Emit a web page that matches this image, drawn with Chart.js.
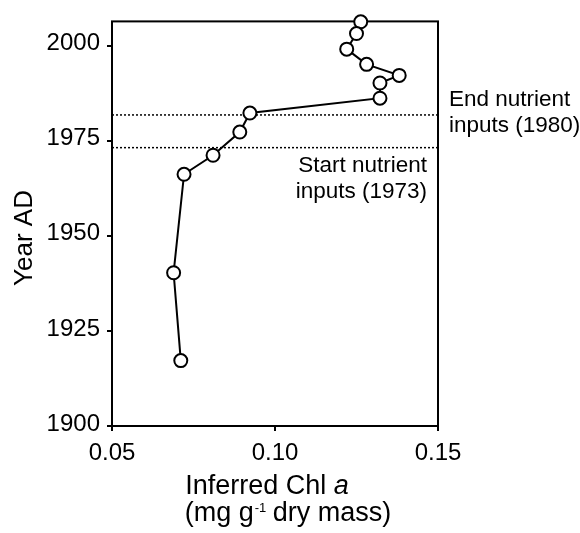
<!DOCTYPE html>
<html>
<head>
<meta charset="utf-8">
<script src="https://cdn.jsdelivr.net/npm/chart.js@4"></script>
<style>
  html, body { margin: 0; padding: 0; background: #fff; }
  #wrap { width: 580px; height: 533px; }
</style>
</head>
<body>
<div id="wrap"><canvas id="grafico"></canvas></div>
<script>
// valores
const chlA = [0.1263, 0.1250, 0.1220, 0.1281, 0.1381, 0.1322, 0.1322, 0.0923, 0.0892, 0.0810, 0.0721, 0.0689, 0.0711]
const anos = [2006.3, 2003.2, 1999.1, 1995.1, 1992.2, 1990.2, 1986.2, 1982.3, 1977.3, 1971.2, 1966.2, 1940.3, 1917.2]
const ticksX = [0.05, 0.10, 0.15]
const ticksY = [1900, 1925, 1950, 1975, 2000]
const anoFim = 1981.8   // linha "End nutrient inputs"
const anoInicio = 1973.2 // linha "Start nutrient inputs"

const fonte = "'Liberation Sans', Arial, sans-serif"

const pontos = chlA.map((x, i) => ({ x: x, y: anos[i] }))

function linhaHorizontal(ano) {
  return [{ x: ticksX[0], y: ano }, { x: ticksX[ticksX.length - 1], y: ano }]
}

// moldura e textos
const textos = {
  id: 'textos',
  beforeDatasetsDraw(chart) {
    const { ctx, chartArea } = chart
    ctx.save()
    ctx.strokeStyle = '#000'
    ctx.lineWidth = 2
    ctx.strokeRect(chartArea.left, chartArea.top, chartArea.right - chartArea.left, chartArea.bottom - chartArea.top)
    ctx.restore()
  },
  afterDraw(chart) {
    const { ctx, chartArea, scales } = chart
    ctx.save()
    ctx.fillStyle = '#000'
    ctx.textBaseline = 'alphabetic'

    // anotacoes
    ctx.font = '22.5px ' + fonte
    ctx.textAlign = 'left'
    const yFim = scales.y.getPixelForValue(anoFim)
    ctx.fillText('End nutrient', chartArea.right + 11, yFim - 9)
    ctx.fillText('inputs (1980)', chartArea.right + 11, yFim + 17)
    ctx.textAlign = 'right'
    const yIni = scales.y.getPixelForValue(anoInicio)
    ctx.fillText('Start nutrient', chartArea.right - 11, yIni + 24)
    ctx.fillText('inputs (1973)', chartArea.right - 11, yIni + 50)

    // titulo eixo y
    ctx.font = '26px ' + fonte
    ctx.textAlign = 'center'
    ctx.save()
    ctx.translate(32, 238)
    ctx.rotate(-Math.PI / 2)
    ctx.fillText('Year AD', 0, 0)
    ctx.restore()

    // titulo eixo x, linha 1 com "a" em italico
    const p1 = 'Inferred Chl '
    ctx.font = '27px ' + fonte
    const w1 = ctx.measureText(p1).width
    ctx.font = 'italic 27px ' + fonte
    const w2 = ctx.measureText('a').width
    let x0 = 267 - (w1 + w2) / 2
    ctx.textAlign = 'left'
    ctx.font = '27px ' + fonte
    ctx.fillText(p1, x0, 494)
    ctx.font = 'italic 27px ' + fonte
    ctx.fillText('a', x0 + w1, 494)

    // linha 2 com expoente
    const a = '(mg g'
    const sup = '-1'
    const b = ' dry mass)'
    ctx.font = '27px ' + fonte
    const wa = ctx.measureText(a).width
    const wb = ctx.measureText(b).width
    ctx.font = '13px ' + fonte
    const ws = ctx.measureText(sup).width
    x0 = 288 - (wa + ws + wb) / 2
    ctx.font = '27px ' + fonte
    ctx.fillText(a, x0, 521)
    ctx.font = '13px ' + fonte
    ctx.fillText(sup, x0 + wa + 1, 512)
    ctx.font = '27px ' + fonte
    ctx.fillText(b, x0 + wa + ws, 521)
    ctx.restore()
  }
}

const grafico = new Chart(document.getElementById('grafico'), {
  type: 'scatter',
  data: {
    datasets: [
      {
        label: 'Chl a',
        data: pontos,
        showLine: true,
        borderColor: '#000',
        borderWidth: 2,
        pointRadius: 6.5,
        pointBackgroundColor: '#fff',
        pointBorderColor: '#000',
        pointBorderWidth: 2,
        clip: false,
        order: 0
      },
      {
        label: 'fim',
        data: linhaHorizontal(anoFim),
        showLine: true,
        borderColor: '#000',
        borderWidth: 1.5,
        borderDash: [2, 2],
        pointRadius: 0,
        order: 1
      },
      {
        label: 'inicio',
        data: linhaHorizontal(anoInicio),
        showLine: true,
        borderColor: '#000',
        borderWidth: 1.5,
        borderDash: [2, 2],
        pointRadius: 0,
        order: 1
      }
    ]
  },
  options: {
    responsive: true,
    maintainAspectRatio: false,
    animation: false,
    layout: { padding: { top: 17, right: 142, left: 0, bottom: 0 } },
    plugins: {
      legend: { display: false },
      tooltip: { enabled: false }
    },
    scales: {
      x: {
        type: 'linear',
        min: 0.05,
        max: 0.15,
        afterFit: (scale) => { scale.height = 107 },
        afterBuildTicks: (scale) => { scale.ticks = ticksX.map(v => ({ value: v })) },
        border: { display: false },
        grid: { drawOnChartArea: false, drawTicks: true, tickLength: 5, color: '#000', lineWidth: 2 },
        ticks: {
          color: '#000',
          font: { family: fonte, size: 24 },
          padding: 8,
          maxRotation: 0,
          callback: (v) => Number(v).toFixed(2)
        }
      },
      y: {
        type: 'linear',
        min: 1900,
        max: 2006.4,
        afterFit: (scale) => { scale.width = 112 },
        afterBuildTicks: (scale) => { scale.ticks = ticksY.map(v => ({ value: v })) },
        border: { display: false },
        grid: { drawOnChartArea: false, drawTicks: true, tickLength: 5, color: '#000', lineWidth: 2 },
        ticks: {
          color: '#000',
          font: { family: fonte, size: 24 },
          padding: 7,
          labelOffset: -2,
          callback: (v) => String(v)
        }
      }
    }
  },
  plugins: [textos]
})
</script>
</body>
</html>
